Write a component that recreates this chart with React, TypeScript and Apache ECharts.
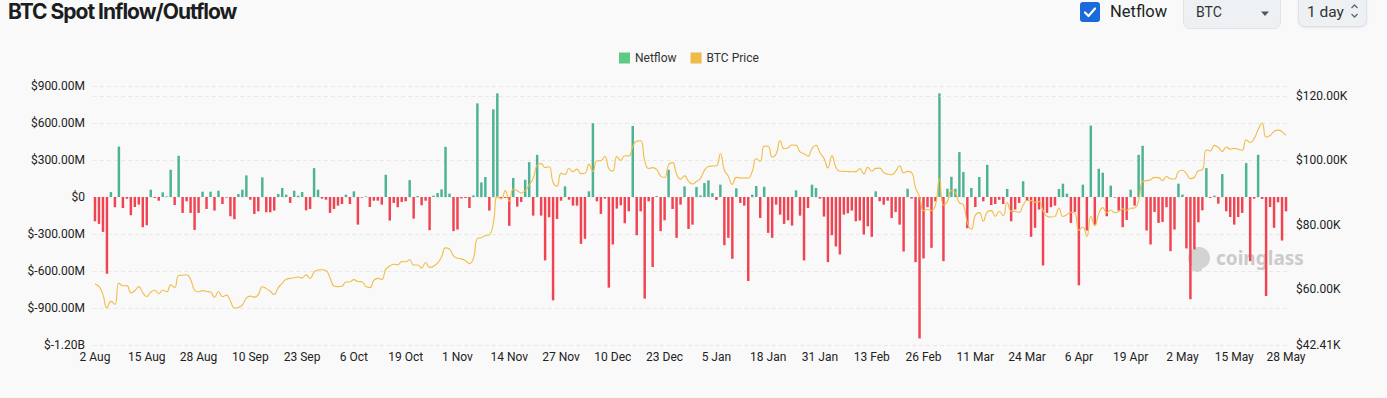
import React, { useEffect, useRef } from "react";
import * as echarts from "echarts";

// ---- data ----
const START_YEAR = 2024;
const START_MONTH = 7; // August (0-based)
const START_DAY = 2;
const DAY_COUNT = 300;
const MONTH_NAMES = ["Jan", "Feb", "Mar", "Apr", "May", "Jun", "Jul", "Aug", "Sep", "Oct", "Nov", "Dec"];

// daily spot netflow, millions of USD (2 Aug 2024 .. 28 May 2025)
const netflowAug = [-197, -218, -283, -622, 40, -83, 409, -89, -14, -148, -81, -62, -245, -229, 59, -8, -30, 38, 5, 221, -65, 334, -129, -35, -129, -267, -129, 43, -97, 43];
const netflowSep = [-110, 51, -57, -5, -156, -180, 24, 59, 175, -22, -137, -116, 159, -124, -124, -110, 24, 73, 19, -48, 51, 11, 40, -108, -97, 234, 59, -13, -22, -129];
const netflowOct = [-97, -70, -57, 19, -57, 46, -224, -5, 5, -81, -30, -30, -62, 180, -191, -48, -83, -40, -35, 137, -175, 8, -67, -30, -269, 11, 32, 62, 407, 27, -277];
const netflowNov = [-264, -11, -8, -89, 13, 759, 118, 162, -110, 711, 840, -8, -8, -234, 154, -78, -40, 140, 283, -151, 342, -151, -514, -164, -838, -178, -30, 86, -22, -70];
const netflowDec = [-70, -380, -339, 46, 598, -35, -137, -13, -735, -385, -94, -67, -213, -116, 576, -310, -116, -824, -35, -568, 8, -277, -189, 221, -97, -331, -62, 86, -259, -224, 81];
const netflowJan = [13, 113, 135, 32, -24, 100, -391, -331, -501, 70, -48, -70, -681, 19, 89, -170, 83, -291, -331, -62, -143, -218, -189, -232, 54, -151, -514, -89, 100, 73, -13];
const netflowFeb = [-159, -528, -310, -401, -466, -143, -132, -110, -197, -191, -304, -237, -323, 46, -35, -62, -30, -170, -121, -224, -442, 67, -13, -528, -1147, -498, -83, -412];
const netflowMar = [-35, 840, -520, 67, 164, 67, 364, 202, -253, 73, -81, 162, -35, 261, -65, -57, -22, -57, 65, -197, -102, -48, 127, -30, -323, -250, -102, -555, -129, -83, -70];
const netflowApr = [65, 108, 27, -210, -121, -716, 100, -272, 579, -224, 229, 197, -156, 92, -5, -110, -245, -186, 59, -70, 342, 415, -272, -385, -121, -210, -202, -83, -439, -264];
const netflowMay = [108, 19, -417, -829, -425, -205, -108, 234, -8, 11, -54, 186, -116, -162, -224, -162, -129, 275, -520, -13, 342, -16, -803, -81, -250, -43, -353, -116];

// daily BTC close, USD
const priceAug = [61415, 60680, 58116, 53991, 56034, 55027, 61710, 60880, 60945, 58719, 59355, 60609, 58737, 57561, 58894, 59478, 58483, 59493, 59012, 61175, 60381, 64094, 64178, 64333, 62880, 59504, 59027, 59388, 59119, 58969];
const priceSep = [57326, 59113, 57485, 57971, 56160, 53948, 54139, 54841, 57019, 57648, 57343, 58127, 60571, 60005, 59182, 58192, 60309, 61649, 62940, 63192, 63395, 63648, 63329, 64301, 63144, 65181, 65791, 65888, 65635, 63329];
const priceOct = [60837, 60632, 60759, 62067, 62089, 62819, 62224, 62160, 60636, 60326, 62540, 63206, 62870, 66083, 67041, 67612, 67400, 68419, 68363, 69001, 67367, 67361, 66432, 68161, 66642, 67014, 67929, 69907, 72720, 72339, 70215];
const priceNov = [69482, 69289, 68742, 67811, 69359, 75639, 75905, 76545, 76778, 80474, 88701, 87955, 90585, 87250, 91066, 90558, 89845, 90542, 92344, 94339, 98504, 98997, 97778, 98014, 93102, 91985, 95962, 95652, 97462, 96450];
const priceDec = [97279, 95865, 96002, 98768, 96593, 99920, 99924, 101236, 97433, 96675, 101173, 100043, 101459, 101373, 104299, 106029, 106141, 100041, 97490, 97755, 97224, 95105, 94686, 98676, 99300, 95795, 94164, 95163, 93530, 92643, 93429];
const priceJan = [94419, 96887, 98107, 98237, 98314, 102078, 96922, 95044, 92484, 94701, 94566, 94488, 94517, 96534, 100504, 99756, 104462, 104408, 101089, 102016, 106146, 103654, 103960, 104819, 104714, 102682, 102087, 101332, 103703, 104736, 102406];
const priceFeb = [100655, 97688, 101406, 97871, 96616, 96593, 96530, 96482, 96500, 97427, 95779, 97869, 96623, 97508, 97581, 96176, 95774, 95539, 96636, 98334, 96126, 96578, 96273, 91418, 88736, 84347, 84705, 84373];
const priceMar = [86031, 94248, 86065, 87222, 90624, 89962, 86742, 86154, 80601, 78532, 82862, 83722, 81067, 83969, 84343, 82580, 84075, 82718, 86854, 84167, 84044, 83832, 86054, 87498, 87471, 86900, 87177, 84353, 82597, 82334, 82548];
const priceApr = [85170, 82485, 83102, 83843, 83504, 78214, 79235, 76271, 82573, 79626, 83404, 85287, 83684, 84542, 83668, 84033, 84895, 84450, 85064, 85174, 87518, 93441, 93699, 93943, 94720, 94646, 93755, 94978, 94284, 94207];
const priceMay = [96493, 96911, 95891, 94315, 94748, 96803, 97032, 103241, 102970, 104696, 104107, 102812, 104170, 103539, 103744, 103490, 103191, 106447, 105606, 106791, 109678, 111673, 107288, 107791, 109035, 109440, 108994, 107802];

// axes
const NETFLOW_MIN = -1200;
const NETFLOW_MAX = 900;
const NETFLOW_STEP = 300;
const PRICE_MIN = 42410;
const PRICE_MAX = 123220;
const PRICE_GRIDLINE = 120000;
const LABEL_EVERY = 13;

const netflow: number[] = [
  ...netflowAug, ...netflowSep, ...netflowOct, ...netflowNov, ...netflowDec,
  ...netflowJan, ...netflowFeb, ...netflowMar, ...netflowApr, ...netflowMay,
];
const btcPrice: number[] = [
  ...priceAug, ...priceSep, ...priceOct, ...priceNov, ...priceDec,
  ...priceJan, ...priceFeb, ...priceMar, ...priceApr, ...priceMay,
];

const categories: string[] = [];
for (let i = 0; i < DAY_COUNT; i++) {
  const d = new Date(Date.UTC(START_YEAR, START_MONTH, START_DAY + i));
  categories.push(`${d.getUTCDate()} ${MONTH_NAMES[d.getUTCMonth()]}`);
}

const GREEN = "#4db394";
const RED = "#f04452";
const LEGEND_GREEN = "#5cc984";
const GOLD = "#f0bd48";
const FONT = "Roboto, 'Noto Sans', sans-serif";

function fmtNetflow(v: number): string {
  if (v === 0) return "$0";
  if (Math.abs(v) >= 1000) return "$" + (v / 1000).toFixed(2) + "B";
  return "$" + v.toFixed(2) + "M";
}
function fmtPrice(v: number): string {
  return "$" + (v / 1000).toFixed(2) + "K";
}

export default function App() {
  const ref = useRef<HTMLDivElement>(null);
  useEffect(() => {
    if (!ref.current) return;
    const chart = echarts.init(ref.current, null, { renderer: "svg" });
    chart.setOption({
      animation: false,
      backgroundColor: "transparent",
      textStyle: { fontFamily: FONT },
      legend: {
        left: 614,
        top: 47,
        icon: "rect",
        itemWidth: 11,
        itemHeight: 11,
        itemGap: 14,
        textStyle: { fontSize: 12, color: "#333", fontFamily: FONT },
        data: [
          { name: "Netflow", itemStyle: { color: LEGEND_GREEN } },
          { name: "BTC Price", itemStyle: { color: "#ecbb4a" } },
        ],
      },
      grid: { left: 93, right: 99, top: 86, bottom: 53, containLabel: false },
      xAxis: {
        type: "category",
        data: categories,
        boundaryGap: true,
        axisLine: { show: false, onZero: false },
        axisTick: { show: false },
        axisLabel: { interval: LABEL_EVERY - 1, color: "#222", fontSize: 12, margin: 6, fontFamily: FONT },
        splitLine: { show: false },
      },
      yAxis: [
        {
          type: "value",
          min: NETFLOW_MIN,
          max: NETFLOW_MAX,
          interval: NETFLOW_STEP,
          position: "left",
          axisLine: { show: false },
          axisTick: { show: false },
          axisLabel: { formatter: fmtNetflow, color: "#222", fontSize: 12, margin: 8, fontFamily: FONT },
          splitLine: { show: true, lineStyle: { color: "#e9e9e9", type: [4, 3], width: 1 } },
        },
        {
          type: "value",
          min: PRICE_MIN,
          max: PRICE_MAX,
          splitNumber: 4,
          position: "right",
          axisLine: { show: false },
          axisTick: { show: false },
          axisLabel: {
            formatter: fmtPrice,
            color: "#222",
            fontSize: 12,
            margin: 8,
            showMaxLabel: false,
            showMinLabel: true,
            fontFamily: FONT,
          },
          splitLine: { show: false },
        },
      ],
      series: [
        {
          name: "Netflow",
          type: "bar",
          yAxisIndex: 0,
          barWidth: "62%",
          data: netflow.map((v) => ({ value: v, itemStyle: { color: v >= 0 ? GREEN : RED } })),
        },
        {
          name: "BTC Price",
          type: "line",
          yAxisIndex: 1,
          smooth: true,
          showSymbol: false,
          symbol: "none",
          itemStyle: { color: GOLD },
          lineStyle: { color: GOLD, width: 1.1 },
          data: btcPrice,
          markLine: {
            silent: true,
            symbol: "none",
            label: { show: false },
            lineStyle: { color: "#e9e9e9", type: [4, 3], width: 1 },
            data: [{ yAxis: PRICE_GRIDLINE }],
          },
        },
      ],
      graphic: [
        {
          type: "group",
          left: 1188,
          top: 247,
          silent: true,
          children: [
            { type: "circle", shape: { cx: 11, cy: 12, r: 11 }, style: { fill: "#d3d3d3" } },
            { type: "rect", shape: { x: 4, y: 18, width: 10, height: 8, r: 3 }, style: { fill: "#d3d3d3" } },
            {
              type: "text",
              x: 28,
              y: 2,
              style: { text: "coinglass", font: "bold 19px 'Noto Sans', sans-serif", fill: "#cbcbcb" },
            },
          ],
        },
      ],
    });
    return () => chart.dispose();
  }, []);

  const box: React.CSSProperties = {
    position: "absolute",
    background: "#edf1f4",
    border: "1px solid #dde3e9",
    borderRadius: 7,
    boxSizing: "border-box",
  };

  return (
    <div
      style={{
        position: "fixed",
        left: 0,
        top: 0,
        width: 1387,
        height: 398,
        background: "#f9f9f9",
        overflow: "hidden",
        fontFamily: FONT,
      }}
    >
      <div ref={ref} style={{ position: "absolute", left: 0, top: 0, width: 1387, height: 398 }} />
      <div
        style={{
          position: "absolute",
          left: 8,
          top: 0,
          fontFamily: "Inter, sans-serif",
          fontWeight: 700,
          fontSize: 21,
          lineHeight: "23px",
          letterSpacing: -1,
          color: "#1b1d21",
          whiteSpace: "nowrap",
        }}
      >
        BTC Spot Inflow/Outflow
      </div>
      <div
        style={{
          position: "absolute",
          left: 1080,
          top: 2,
          width: 20,
          height: 20,
          borderRadius: 3,
          background: "#1a6ad9",
        }}
      >
        <svg width="20" height="20" viewBox="0 0 20 20">
          <polyline points="5,10.5 8.5,14 15,6.5" fill="none" stroke="#fff" strokeWidth="2.2" strokeLinecap="round" strokeLinejoin="round" />
        </svg>
      </div>
      <div
        style={{ position: "absolute", left: 1110, top: 1, fontSize: 16.5, lineHeight: "22px", color: "#222", whiteSpace: "nowrap" }}
      >
        Netflow
      </div>
      <div style={{ ...box, left: 1183, top: -8, width: 98, height: 37 }}>
        <div style={{ position: "absolute", left: 12, top: 10, fontSize: 14, lineHeight: "18px", color: "#333" }}>BTC</div>
        <svg style={{ position: "absolute", left: 76, top: 18 }} width="10" height="6" viewBox="0 0 10 6">
          <polygon points="1,0.5 9,0.5 5,5" fill="#555" />
        </svg>
      </div>
      <div style={{ ...box, left: 1298, top: -8, width: 69, height: 35, boxShadow: "0 1px 2px rgba(0,0,0,0.08)" }}>
        <div style={{ position: "absolute", left: 8, top: 9, fontSize: 15.5, lineHeight: "20px", color: "#333", whiteSpace: "nowrap" }}>
          1 day
        </div>
        <svg style={{ position: "absolute", left: 51, top: 9 }} width="9" height="18" viewBox="0 0 9 18">
          <polyline points="1.5,6 4.5,3 7.5,6" fill="none" stroke="#666" strokeWidth="1.3" />
          <polyline points="1.5,12 4.5,15 7.5,12" fill="none" stroke="#666" strokeWidth="1.3" />
        </svg>
      </div>
    </div>
  );
}
